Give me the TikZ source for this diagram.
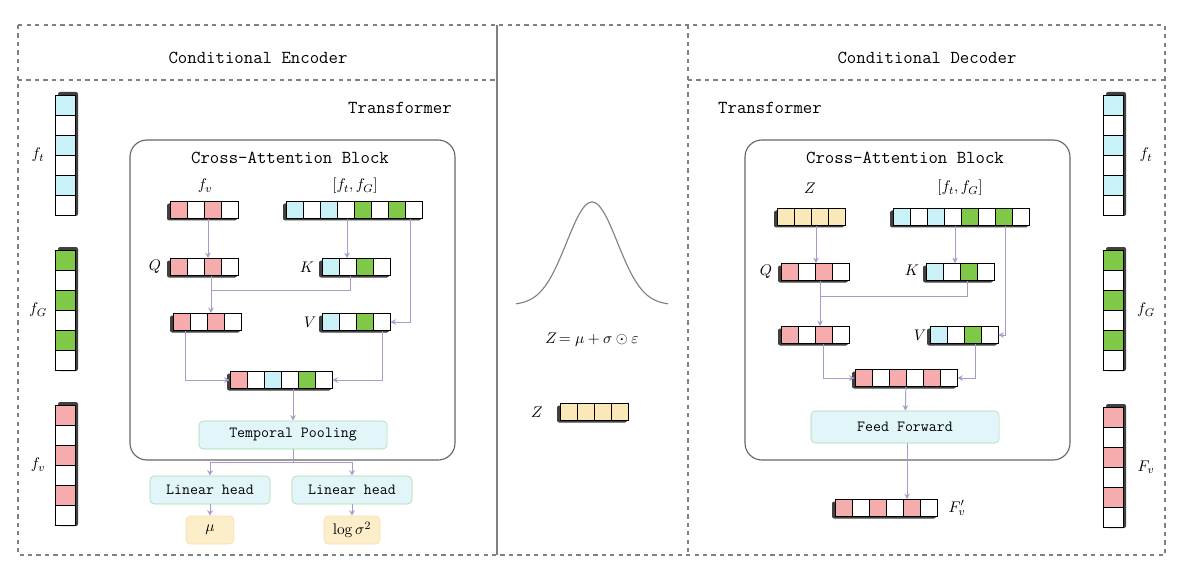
\documentclass[tikz,border=0pt]{standalone}
\usepackage{amsmath}
\usepackage{xcolor}
\usetikzlibrary{arrows.meta}

\definecolor{cellcyan}{RGB}{200,242,248}
\definecolor{cellgreen}{RGB}{128,200,72}
\definecolor{cellpink}{RGB}{246,172,172}
\definecolor{cellbeige}{RGB}{250,232,185}
\definecolor{boxblue}{RGB}{226,246,250}
\definecolor{boxbeige}{RGB}{252,238,200}
\definecolor{flow}{RGB}{170,155,205}

\tikzset{
  cellrow/.style={inner sep=0pt, minimum height=0.425cm},
  cell/.style={draw=black, line width=0.7pt},
  flowarrow/.style={draw=flow, line width=0.7pt, -{Stealth[length=4pt,width=4pt]}},
  flowline/.style={draw=flow, line width=0.7pt},
  opbox/.style={draw=green!40!gray!50, fill=boxblue, rounded corners=3pt, font=\ttfamily\fontsize{11}{13}\selectfont, minimum height=0.7cm},
  outbox/.style={draw=orange!30, fill=boxbeige, rounded corners=3pt, font=\fontsize{11}{13}\selectfont, minimum height=0.7cm, minimum width=1.2cm},
  title/.style={font=\ttfamily\fontsize{13}{15}\selectfont},
  sym/.style={font=\itshape\fontsize{11}{13}\selectfont}
}

% horizontal vector: name, x, y, number of cells, colours
\newcommand{\hcells}[5]{%
  \fill[black!75, rounded corners=1.5pt] ({#2-#4*8.5-3},{#3-8.5+2}) rectangle ({#2+#4*8.5-1},{#3+8.5+2});
  \node[cellrow, minimum width=#4*0.425cm] (#1) at (#2,#3) {};
  \foreach \c [count=\i] in {#5}
    \draw[cell, fill=\c] ({#2-#4*8.5+(\i-1)*17},{#3-8.5}) rectangle ++(17,17);
}
% vertical vector: name, x, y, colours (6 cells)
\newcommand{\vcells}[4]{%
  \fill[black!75, rounded corners=1.5pt] ({#2-10+3},{#3-60-3}) rectangle ({#2+10+3},{#3+60+1});
  \node[inner sep=0pt, minimum width=0.5cm, minimum height=3cm] (#1) at (#2,#3) {};
  \foreach \c [count=\i] in {#4}
    \draw[cell, fill=\c] ({#2-10},{#3-60+(\i-1)*20}) rectangle ++(20,20);
}

\begin{document}
\begin{tikzpicture}[x=0.025cm, y=-0.025cm]
  \useasboundingbox (0,0) rectangle (1200,583);

  % frames
  \draw[gray, dashed, line width=0.8pt] (18,25) rectangle (1165,555);
  \draw[gray, dashed, line width=0.8pt] (18,80) -- (497,80);
  \draw[gray, dashed, line width=0.8pt] (688,80) -- (1165,80);
  \draw[gray, line width=0.8pt] (497,25) -- (497,555);
  \draw[gray, dashed, line width=0.8pt] (688,25) -- (688,555);
  \node[title] (enc-title) at (258,58) {Conditional Encoder};
  \node[title] (dec-title) at (927,58) {Conditional Decoder};

  % ---------------- encoder ----------------
  \node[title] (enc-tf) at (400,108) {Transformer};
  \draw[gray!80!black, line width=0.8pt, rounded corners=12pt] (130,140) rectangle (455,460);
  \node[title] (enc-ca) at (290,158) {Cross-Attention Block};

  \vcells{enc-ft}{65}{155}{cellcyan,white,cellcyan,white,cellcyan,white}
  \vcells{enc-fg}{65}{310}{cellgreen,white,cellgreen,white,cellgreen,white}
  \vcells{enc-fv}{65}{465}{cellpink,white,cellpink,white,cellpink,white}
  \node[sym] at (38,155) {$f_t$};
  \node[sym] at (38,310) {$f_G$};
  \node[sym] at (38,465) {$f_v$};

  \hcells{enc-in}{204}{210}{4}{cellpink,white,cellpink,white}
  \hcells{enc-ctx}{354}{210}{8}{cellcyan,white,cellcyan,white,cellgreen,white,cellgreen,white}
  \node[sym] at (205,186) {$f_v$};
  \node[sym] at (355,186) {$[f_t,f_G]$};
  \hcells{enc-q}{204}{267}{4}{cellpink,white,cellpink,white}
  \hcells{enc-k}{356}{267}{4}{cellcyan,white,cellgreen,white}
  \node[sym] at (155,267) {$Q$};
  \node[sym] at (307,267) {$K$};
  \hcells{enc-a}{207}{322}{4}{cellpink,white,cellpink,white}
  \hcells{enc-v}{356}{322}{4}{cellcyan,white,cellgreen,white}
  \node[sym] at (310,322) {$V$};
  \hcells{enc-cat}{281}{380}{6}{cellpink,white,cellcyan,white,cellgreen,white}

  \node[opbox, minimum width=4.7cm] (pool) at (293,435) {Temporal Pooling};
  \node[opbox, minimum width=3cm] (lin1) at (210,490) {Linear head};
  \node[opbox, minimum width=3cm] (lin2) at (352,490) {Linear head};
  \node[outbox] (mu) at (210,530) {$\mu$};
  \node[outbox, minimum width=1.4cm] (logvar) at (352,530) {$\log\sigma^2$};

  \draw[flowarrow] (enc-in.south -| 208,0) -- (enc-q.north -| 208,0);
  \draw[flowarrow] (enc-ctx.south -| 347,0) -- (enc-k.north -| 347,0);
  \draw[flowarrow] (enc-ctx.south -| 410,0) |- (enc-v.east);
  \draw[flowarrow] (enc-q.south -| 211,0) -- (enc-a.north -| 211,0);
  \draw[flowline] (enc-k.south -| 350,0) |- (211,290);
  \draw[flowarrow] (enc-a.south -| 185,0) |- (enc-cat.west);
  \draw[flowarrow] (enc-v.south -| 382,0) |- (enc-cat.east);
  \draw[flowarrow] (enc-cat.south -| pool) -- (pool);
  \coordinate (split) at (293,462);
  \draw[flowline] (pool.south) -- (split);
  \draw[flowarrow] (split) -| (lin1.north);
  \draw[flowarrow] (split) -| (lin2.north);
  \draw[flowarrow] (lin1) -- (mu);
  \draw[flowarrow] (lin2) -- (logvar);

  % ---------------- latent ----------------
  \draw[gray, line width=0.8pt] plot[domain=-76:76, samples=80, smooth] ({592+\x},{305-103*exp(-(\x/36)^2)});
  \node[font=\fontsize{11}{13}\selectfont] (reparam) at (592,340) {$Z\!=\mu+\sigma\odot\varepsilon$};
  \hcells{lat-z}{594}{412}{4}{cellbeige,cellbeige,cellbeige,cellbeige}
  \node[sym] at (537,412) {$Z$};

  % ---------------- decoder ----------------
  \node[title] (dec-tf) at (770,108) {Transformer};
  \draw[gray!80!black, line width=0.8pt, rounded corners=12pt] (745,140) rectangle (1070,460);
  \node[title] (dec-ca) at (905,158) {Cross-Attention Block};

  \vcells{dec-ft}{1113}{155}{cellcyan,white,cellcyan,white,cellcyan,white}
  \vcells{dec-fg}{1113}{310}{cellgreen,white,cellgreen,white,cellgreen,white}
  \vcells{dec-fv}{1113}{467}{cellpink,white,cellpink,white,cellpink,white}
  \node[sym] at (1146,155) {$f_t$};
  \node[sym] at (1146,310) {$f_G$};
  \node[sym] at (1146,467) {$F_v$};

  \hcells{dec-in}{811}{217}{4}{cellbeige,cellbeige,cellbeige,cellbeige}
  \hcells{dec-ctx}{961}{217}{8}{cellcyan,white,cellcyan,white,cellgreen,white,cellgreen,white}
  \node[sym] at (810,188) {$Z$};
  \node[sym] at (960,188) {$[f_t,f_G]$};
  \hcells{dec-q}{815}{272}{4}{cellpink,white,cellpink,white}
  \hcells{dec-k}{960}{272}{4}{cellcyan,white,cellgreen,white}
  \node[sym] at (766,272) {$Q$};
  \node[sym] at (912,270) {$K$};
  \hcells{dec-a}{815}{335}{4}{cellpink,white,cellpink,white}
  \hcells{dec-v}{964}{335}{4}{cellcyan,white,cellgreen,white}
  \node[sym] at (920,335) {$V$};
  \hcells{dec-cat}{906}{378}{6}{cellpink,white,cellpink,white,cellpink,white}

  \node[opbox, minimum width=4.7cm, minimum height=0.8cm] (ffn) at (905,427) {Feed Forward};
  \hcells{dec-out}{886}{508}{6}{cellpink,white,cellpink,white,cellpink,white}
  \node[sym] at (957,508) {$F_v'$};

  \draw[flowarrow] (dec-in.south -| 816,0) -- (dec-q.north -| 816,0);
  \draw[flowarrow] (dec-ctx.south -| 955,0) -- (dec-k.north -| 955,0);
  \draw[flowarrow] (dec-ctx.south -| 1005,0) |- (dec-v.east);
  \draw[flowarrow] (dec-q.south -| 820,0) -- (dec-a.north -| 820,0);
  \draw[flowline] (dec-k.south -| 967,0) |- (820,296);
  \draw[flowarrow] (dec-a.south -| 823,0) |- (dec-cat.west);
  \draw[flowarrow] (dec-v.south -| 975,0) |- (dec-cat.east);
  \draw[flowarrow] (dec-cat) -- (ffn);
  \draw[flowarrow] (ffn.south -| 907,0) -- (dec-out.north -| 907,0);
\end{tikzpicture}
\end{document}
